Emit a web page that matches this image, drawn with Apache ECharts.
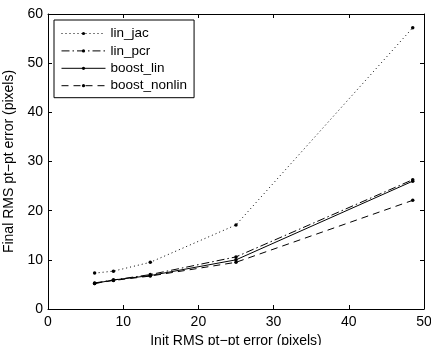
<!DOCTYPE html>
<html><head><meta charset="utf-8">
<script src="https://cdn.jsdelivr.net/npm/echarts@6/dist/echarts.min.js"></script>
<style>html,body{margin:0;padding:0;background:#fff}#c{width:431px;height:345px}</style>
</head><body><div id="c"></div>
<script>
const xValues = [6.2, 8.7, 13.6, 25.0, 48.5];
const linJac = [7.3, 7.7, 9.5, 17.1, 57.2];
const linPcr = [5.3, 5.9, 7.0, 10.6, 26.3];
const boostLin = [5.2, 5.9, 6.8, 10.0, 26.0];
const boostNonlin = [5.2, 5.8, 6.7, 9.5, 22.1];
const seriesNames = ['lin_jac', 'lin_pcr', 'boost_lin', 'boost_nonlin'];
const xTitle = 'Init RMS pt\u2212pt error (pixels)';
const yTitle = 'Final RMS pt\u2212pt error (pixels)';

const font = 'Liberation Sans, Arial, Helvetica, sans-serif';
const pair = (arr) => xValues.map((x, i) => [x, arr[i]]);
const dashes = [[1, 3], [8, 3, 1.5, 3], 'solid', [7, 5]];
const datas = [linJac, linPcr, boostLin, boostNonlin];

const chart = echarts.init(document.getElementById('c'), null, {renderer: 'canvas'});
const axisCommon = {
  axisLine: {show: true, onZero: false, lineStyle: {color: '#000', width: 1}},
  axisTick: {show: true, inside: true, length: 4, lineStyle: {color: '#000'}},
  splitLine: {show: false},
};
chart.setOption({
  animation: false,
  backgroundColor: '#fff',
  grid: {left: 48, right: 7, top: 14, bottom: 36, containLabel: false, outerBoundsMode: 'none'},
  legend: {
    left: 54, top: 20, orient: 'vertical',
    itemWidth: 44, itemHeight: 4, itemGap: 3.4,
    backgroundColor: '#fff', borderColor: '#000', borderWidth: 1,
    padding: [6.5, 7, 5, 7],
    itemStyle: {borderWidth: 0},
    lineStyle: {width: 1},
    textStyle: {fontFamily: font, fontSize: 13.5, color: '#000'},
    data: seriesNames
  },
  xAxis: [
    Object.assign({type: 'value', min: 0, max: 50, interval: 10, position: 'bottom',
      name: xTitle, nameLocation: 'middle', nameGap: 25,
      nameTextStyle: {fontFamily: font, fontSize: 14, color: '#000'},
      axisLabel: {fontFamily: font, fontSize: 14, color: '#000', margin: 6}}, axisCommon),
    Object.assign({type: 'value', min: 0, max: 50, interval: 10, position: 'top',
      axisLabel: {show: false}}, axisCommon)
  ],
  yAxis: [
    Object.assign({type: 'value', min: 0, max: 60, interval: 10, position: 'left',
      name: yTitle, nameLocation: 'middle', nameGap: 30,
      nameTextStyle: {fontFamily: font, fontSize: 14, color: '#000'},
      axisLabel: {fontFamily: font, fontSize: 14, color: '#000', margin: 5}}, axisCommon),
    Object.assign({type: 'value', min: 0, max: 60, interval: 10, position: 'right',
      axisLabel: {show: false}}, axisCommon)
  ],
  series: seriesNames.map((n, i) => ({
    name: n, type: 'line', data: pair(datas[i]),
    symbol: 'circle', symbolSize: 3.5, showSymbol: true,
    itemStyle: {color: '#000'},
    lineStyle: {color: '#000', width: 1, type: dashes[i]},
    z: 10 - i
  }))
});
</script></body></html>
